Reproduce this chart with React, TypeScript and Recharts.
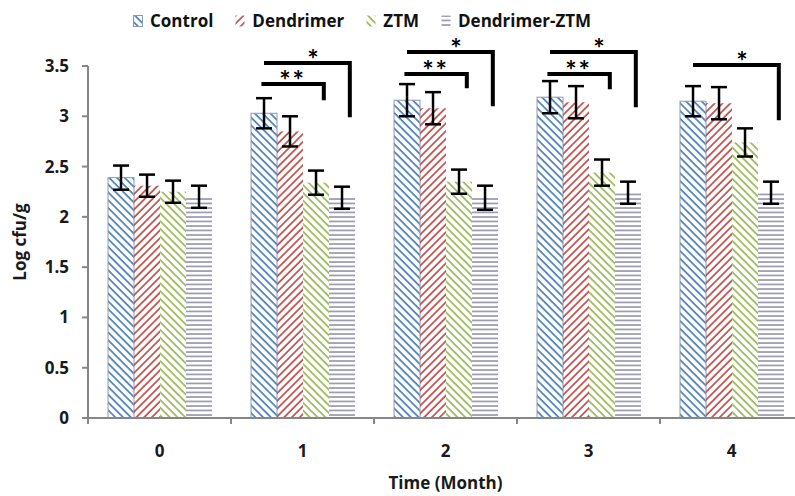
import React from 'react';
import { BarChart, Bar, XAxis, YAxis, ErrorBar } from 'recharts';

const months = ['0', '1', '2', '3', '4'];
const control = [2.39, 3.03, 3.16, 3.19, 3.15];
const controlErr = [0.12, 0.15, 0.16, 0.16, 0.15];
const dendrimer = [2.31, 2.85, 3.08, 3.14, 3.13];
const dendrimerErr = [0.11, 0.15, 0.16, 0.16, 0.16];
const ztm = [2.25, 2.34, 2.35, 2.44, 2.74];
const ztmErr = [0.11, 0.12, 0.12, 0.13, 0.14];
const dztm = [2.2, 2.19, 2.19, 2.24, 2.24];
const dztmErr = [0.11, 0.11, 0.12, 0.11, 0.11];
// significance brackets, heights in Log cfu/g (null = none)
const twoStarTop = [null, 3.32, 3.42, 3.42, null];
const twoStarEnd = [null, 3.16, 3.28, 3.27, null];
const oneStarTop = [null, 3.53, 3.64, 3.64, 3.51];
const oneStarEnd = [null, 2.99, 3.1, 3.09, 2.96];
const yTicks = [0, 0.5, 1, 1.5, 2, 2.5, 3, 3.5];

const legendItems = [
  { name: 'Control', pattern: 'hatchControl', outline: '#8a9bb5' },
  { name: 'Dendrimer', pattern: 'hatchDend', outline: null },
  { name: 'ZTM', pattern: 'hatchZtm', outline: null },
  { name: 'Dendrimer-ZTM', pattern: 'hatchDztm', outline: null },
];

const data = months.map((m, i) => ({
  month: m,
  control: control[i],
  controlErr: controlErr[i],
  dendrimer: dendrimer[i],
  dendrimerErr: dendrimerErr[i],
  ztm: ztm[i],
  ztmErr: ztmErr[i],
  dztm: dztm[i],
  dztmErr: dztmErr[i],
}));

const FONT = '"Open Sans", Lato, sans-serif';
const TEXT = '#1a1a1a';

type BracketSet = {
  tops: (number | null)[];
  ends: (number | null)[];
  stars: string;
  back: number;
  startFrac: number;
  textShift: number;
};

function makeShape(patternId: string, key: string, outline: string | null, br?: BracketSet) {
  return (props: any) => {
    const { x, y, width, height, payload } = props;
    const v = payload[key];
    const base = y + height;
    const toY = (val: number) => base - (val / v) * height;
    const i = months.indexOf(payload.month);
    let bracket = null;
    if (br && br.tops[i] != null && br.ends[i] != null) {
      const yTop = toY(br.tops[i] as number);
      const yEnd = toY(br.ends[i] as number);
      const hStart = x - br.back * width + br.startFrac * width;
      const vx = x + 0.8 * width;
      bracket = (
        <g>
          <path
            d={`M${hStart},${yTop} L${vx},${yTop} L${vx},${yEnd}`}
            stroke="#000"
            strokeWidth={4}
            fill="none"
            strokeLinejoin="miter"
          />
          <text
            x={(hStart + vx) / 2 + br.textShift}
            y={yTop + 6}
            textAnchor="middle"
            fontFamily="Lato, sans-serif"
            fontWeight="bold"
            fontSize={27}
            letterSpacing={br.stars.length > 1 ? 2 : 0}
            fill="#000"
          >
            {br.stars}
          </text>
        </g>
      );
    }
    return (
      <g>
        <rect
          x={x}
          y={y}
          width={width}
          height={height}
          fill={`url(#${patternId})`}
          stroke={outline ?? 'none'}
          strokeWidth={outline ? 1 : 0}
        />
        {bracket}
      </g>
    );
  };
}

const MonthTick = (props: any) => {
  const { x, y, payload, width, visibleTicksCount } = props;
  const band = width / visibleTicksCount;
  return (
    <g>
      <line x1={x - band / 2} x2={x - band / 2} y1={y} y2={y + 6} stroke="#868686" strokeWidth={2} />
      <text
        x={x}
        y={y + 32}
        textAnchor="middle"
        dominantBaseline="central"
        fontFamily={FONT}
        fontWeight="bold"
        fontSize={17}
        fill={TEXT}
      >
        {payload.value}
      </text>
    </g>
  );
};

const Patterns = () => (
  <defs>
    <pattern id="hatchControl" patternUnits="userSpaceOnUse" width={5.5} height={5.5} patternTransform="rotate(-45)">
      <line x1={1} y1={0} x2={1} y2={5.5} stroke="#4a7ebb" strokeWidth={1.7} />
    </pattern>
    <pattern id="hatchDend" patternUnits="userSpaceOnUse" width={5.5} height={5.5} patternTransform="rotate(45)">
      <line x1={1} y1={0} x2={1} y2={5.5} stroke="#be4b48" strokeWidth={1.7} />
    </pattern>
    <pattern id="hatchZtm" patternUnits="userSpaceOnUse" width={5.5} height={5.5} patternTransform="rotate(-45)">
      <line x1={1} y1={0} x2={1} y2={5.5} stroke="#98b954" strokeWidth={1.7} />
    </pattern>
    <pattern id="hatchDztm" patternUnits="userSpaceOnUse" width={6} height={4.5}>
      <line x1={0} y1={1} x2={6} y2={1} stroke="#8b8ba8" strokeWidth={1.5} />
    </pattern>
  </defs>
);

export default function App() {
  return (
    <div style={{ position: 'absolute', left: 0, top: 0, width: 795, height: 496, overflow: 'hidden', background: '#fff' }}>
      <div
        style={{
          position: 'absolute',
          left: 133,
          top: 9,
          display: 'flex',
          alignItems: 'center',
          gap: 22,
          fontFamily: FONT,
          fontWeight: 'bold',
          fontSize: 17,
          color: '#111',
        }}
      >
        {legendItems.map((it) => (
          <div key={it.name} style={{ display: 'flex', alignItems: 'center', gap: 7 }}>
            <svg width={10} height={12}>
              <rect
                x={0.5}
                y={0.5}
                width={9}
                height={11}
                fill={`url(#${it.pattern})`}
                stroke={it.outline ?? 'none'}
                strokeWidth={it.outline ? 1 : 0}
              />
            </svg>
            <span>{it.name}</span>
          </div>
        ))}
      </div>
      <BarChart
        width={810}
        height={496}
        data={data}
        margin={{ top: 66, right: 7, bottom: 0, left: 0 }}
        barCategoryGap="14%"
        barGap={0}
      >
        <Patterns />
        <XAxis
          dataKey="month"
          height={78}
          tickSize={0}
          tickMargin={0}
          tickLine={false}
          axisLine={{ stroke: '#868686', strokeWidth: 2 }}
          tick={<MonthTick />}
          interval={0}
          label={{
            value: 'Time (Month)',
            position: 'insideBottom',
            offset: 7,
            style: { fontFamily: FONT, fontWeight: 'bold', fontSize: 17, fill: TEXT },
          }}
        />
        <YAxis
          width={88}
          domain={[0, 3.5]}
          ticks={yTicks}
          interval={0}
          tickSize={6}
          tickMargin={13}
          axisLine={{ stroke: '#868686', strokeWidth: 2 }}
          tickLine={{ stroke: '#868686', strokeWidth: 2 }}
          tick={{ fontFamily: FONT, fontWeight: 'bold', fontSize: 17, fill: TEXT }}
          label={{
            value: 'Log cfu/g',
            angle: -90,
            position: 'insideLeft',
            offset: 20,
            style: { fontFamily: FONT, fontWeight: 'bold', fontSize: 17, fill: TEXT, textAnchor: 'middle' },
          }}
        />
        <Bar dataKey="control" isAnimationActive={false} shape={makeShape('hatchControl', 'control', '#8a9bb5')}>
          <ErrorBar dataKey="controlErr" width={8} strokeWidth={2.5} stroke="#000" direction="y" />
        </Bar>
        <Bar dataKey="dendrimer" isAnimationActive={false} shape={makeShape('hatchDend', 'dendrimer', null)}>
          <ErrorBar dataKey="dendrimerErr" width={8} strokeWidth={2.5} stroke="#000" direction="y" />
        </Bar>
        <Bar
          dataKey="ztm"
          isAnimationActive={false}
          shape={makeShape('hatchZtm', 'ztm', null, {
            tops: twoStarTop,
            ends: twoStarEnd,
            stars: '**',
            back: 2,
            startFrac: 0.4,
            textShift: 0,
          })}
        >
          <ErrorBar dataKey="ztmErr" width={8} strokeWidth={2.5} stroke="#000" direction="y" />
        </Bar>
        <Bar
          dataKey="dztm"
          isAnimationActive={false}
          shape={makeShape('hatchDztm', 'dztm', null, {
            tops: oneStarTop,
            ends: oneStarEnd,
            stars: '*',
            back: 3,
            startFrac: 0.5,
            textShift: 6,
          })}
        >
          <ErrorBar dataKey="dztmErr" width={8} strokeWidth={2.5} stroke="#000" direction="y" />
        </Bar>
      </BarChart>
    </div>
  );
}
